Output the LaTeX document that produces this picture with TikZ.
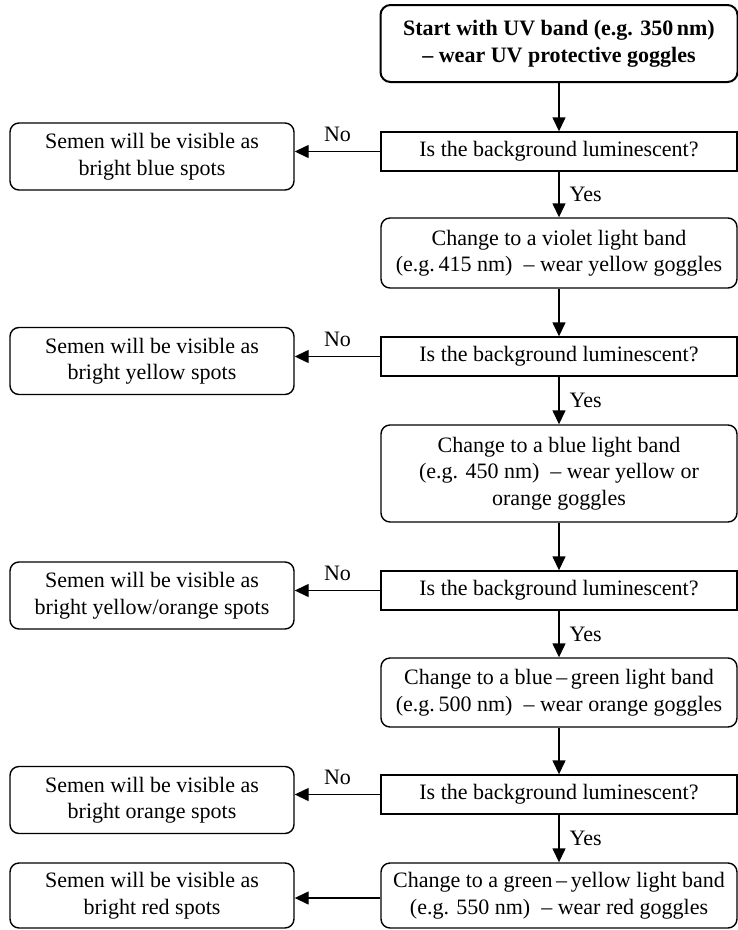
\documentclass[tikz,border=0pt]{standalone}
\usepackage{fontspec}
\setmainfont{Liberation Serif}
\usetikzlibrary{arrows.meta}
\begin{document}
\begin{tikzpicture}[x=1pt,y=-1pt,
  every node/.style={font=\fontsize{22}{26.5}\selectfont},
  base/.style={draw, line width=1.4pt, align=center, inner sep=0pt},
  startbox/.style={base, rounded corners=10pt, line width=2pt, minimum width=357pt, minimum height=77pt, font=\fontsize{22}{27}\selectfont\bfseries},
  rbox/.style={base, rounded corners=9pt, minimum width=356pt},
  qbox/.style={base, minimum width=356pt, minimum height=39pt},
  lbox/.style={base, rounded corners=9pt, minimum width=284pt, minimum height=67pt},
  arr/.style={-{Triangle[length=14pt,width=13pt]}, line width=1.4pt},
  lab/.style={inner sep=2pt}
]
\useasboundingbox (0,0) rectangle (738,930);
% main column
\node[startbox] (start) at (559,43.5) {Start with UV band (e.g. 350\,nm)\\-- wear UV protective goggles};
\node[qbox] (d1) at (559,151.5) {Is the background luminescent?};
\node[rbox, minimum height=70pt] (b1) at (559,253) {Change to a violet light band\\(e.g.\,415 nm)\ \ -- wear yellow goggles};
\node[qbox] (d2) at (559,356.5) {Is the background luminescent?};
\node[rbox, minimum height=97pt] (b2) at (559,473.5) {Change to a blue light band\\(e.g. 450 nm)\ \ -- wear yellow or\\orange goggles};
\node[qbox] (d3) at (559,590.5) {Is the background luminescent?};
\node[rbox, minimum height=69pt] (b3) at (559,692.5) {Change to a blue\,--\,green light band\\(e.g.\,500 nm)\ \ -- wear orange goggles};
\node[qbox] (d4) at (559,794.5) {Is the background luminescent?};
\node[rbox, minimum height=65pt] (b4) at (559,895.5) {Change to a green\,--\,yellow light band\\(e.g. 550 nm)\ \ -- wear red goggles};
% left column
\node[lbox] (l1) at (152,156.5) {Semen will be visible as\\bright blue spots};
\node[lbox] (l2) at (152,361) {Semen will be visible as\\bright yellow spots};
\node[lbox] (l3) at (152,595.5) {Semen will be visible as\\bright yellow/orange spots};
\node[lbox] (l4) at (152,800) {Semen will be visible as\\bright orange spots};
\node[lbox, minimum height=65pt] (l5) at (152,895.5) {Semen will be visible as\\bright red spots};
% vertical arrows
\draw[arr] (start.south) -- (d1.north);
\draw[arr] (d1.south) -- node[lab, right=8pt] {Yes} (b1.north);
\draw[arr] (b1.south) -- (d2.north);
\draw[arr] (d2.south) -- node[lab, right=8pt] {Yes} (b2.north);
\draw[arr] (b2.south) -- (d3.north);
\draw[arr] (d3.south) -- node[lab, right=8pt] {Yes} (b3.north);
\draw[arr] (b3.south) -- (d4.north);
\draw[arr] (d4.south) -- node[lab, right=8pt] {Yes} (b4.north);
% horizontal arrows
\draw[arr] (d1.west) -- node[lab, above=7pt] {No} (d1.west -| l1.east);
\draw[arr] (d2.west) -- node[lab, above=7pt] {No} (d2.west -| l2.east);
\draw[arr] (d3.west) -- node[lab, above=7pt] {No} (d3.west -| l3.east);
\draw[arr] (d4.west) -- node[lab, above=7pt] {No} (d4.west -| l4.east);
\coordinate (b4w) at ([yshift=-2.5pt]b4.west);
\draw[arr] (b4w) -- (b4w -| l5.east);
\end{tikzpicture}
\end{document}
